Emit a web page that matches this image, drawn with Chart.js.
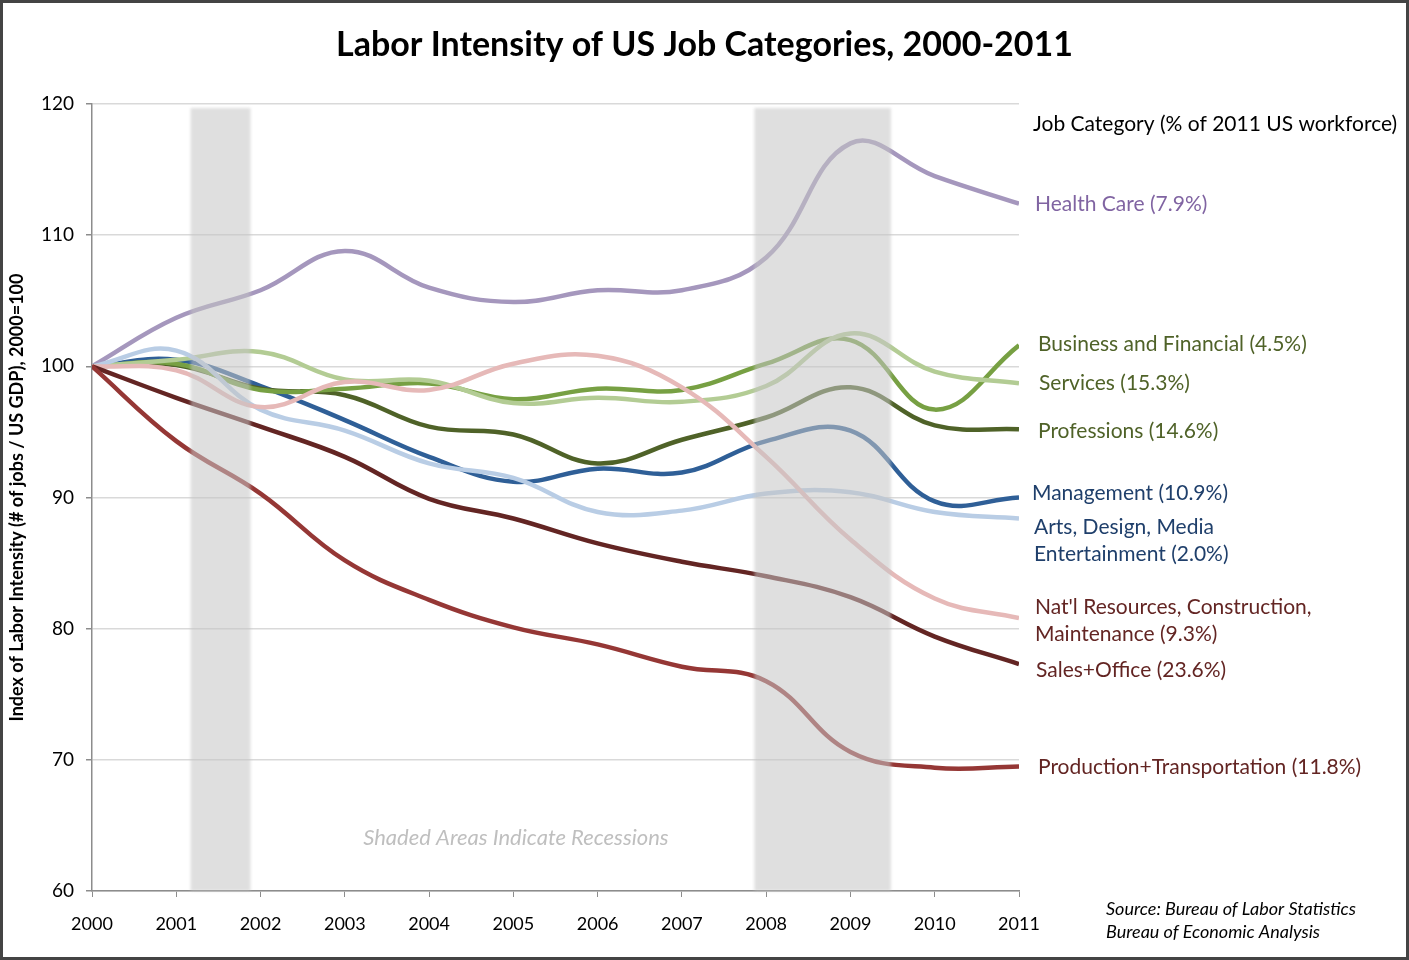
<!DOCTYPE html>
<html>
<head>
<meta charset="utf-8">
<script src="https://cdn.jsdelivr.net/npm/chart.js@4.4.0/dist/chart.umd.min.js"></script>
<style>
body { margin: 0; background: #fff; }
#wrap { width: 1409px; height: 960px; }
</style>
</head>
<body>
<div id="wrap"><canvas id="laborChart" width="1409" height="960"></canvas></div>
<script>
// yearly index values, 2000 = 100
const years = [2000, 2001, 2002, 2003, 2004, 2005, 2006, 2007, 2008, 2009, 2010, 2011];
const healthCare = [100, 103.7, 105.8, 108.8, 106.0, 104.9, 105.8, 105.8, 108.3, 117.0, 114.5, 112.4];
const businessFinancial = [100, 100.2, 98.2, 98.3, 98.7, 97.5, 98.3, 98.2, 100.2, 102.0, 96.7, 101.6];
const services = [100, 100.5, 101.1, 99.0, 98.9, 97.2, 97.6, 97.3, 98.5, 102.5, 99.6, 98.7];
const professions = [100, 100.1, 98.3, 97.8, 95.4, 94.8, 92.6, 94.4, 96.1, 98.4, 95.5, 95.2];
const management = [100, 100.5, 98.5, 95.9, 93.1, 91.2, 92.2, 91.9, 94.3, 95.1, 89.7, 90.0];
const artsMedia = [100, 101.2, 96.7, 95.1, 92.6, 91.5, 88.9, 89.0, 90.3, 90.4, 88.9, 88.4];
const natResources = [100, 99.7, 96.9, 98.8, 98.2, 100.2, 100.8, 98.4, 93.1, 86.8, 82.3, 80.8];
const salesOffice = [100, 97.6, 95.4, 93.1, 89.9, 88.4, 86.5, 85.1, 84.0, 82.4, 79.4, 77.3];
const production = [100, 94.3, 90.3, 85.2, 82.2, 80.1, 78.8, 77.1, 76.0, 70.6, 69.4, 69.5];

const seriesNames = [
  "Health Care (7.9%)", "Business and Financial (4.5%)", "Services (15.3%)",
  "Professions (14.6%)", "Management (10.9%)", "Arts, Design, Media Entertainment (2.0%)",
  "Nat'l Resources, Construction, Maintenance (9.3%)", "Sales+Office (23.6%)",
  "Production+Transportation (11.8%)"
];
const yTicks = [60, 70, 80, 90, 100, 110, 120];
// recessions (start, end) in fractional years
const recessionStart = [2001.17, 2007.86];
const recessionEnd = [2001.88, 2009.48];

const FONT = "Lato, 'Open Sans', sans-serif";

function series(label, data, color) {
  return {
    label: label,
    data: data.map((v, i) => ({ x: years[i], y: v })),
    borderColor: color,
    backgroundColor: color,
    borderWidth: 4.5,
    pointRadius: 0,
    tension: 0.4,
    fill: false
  };
}

// right-hand labels: text lines, colour, left x, centre y of first line
const sideLabels = [
  { lines: ["Job Category (% of 2011 US workforce)"], color: "#000000", x: 1033, y: 124 },
  { lines: [seriesNames[0]], color: "#8064a2", x: 1035, y: 204 },
  { lines: [seriesNames[1]], color: "#4f6228", x: 1038, y: 344 },
  { lines: [seriesNames[2]], color: "#4f6228", x: 1039, y: 383 },
  { lines: [seriesNames[3]], color: "#4f6228", x: 1038, y: 431 },
  { lines: [seriesNames[4]], color: "#1f3f6b", x: 1032, y: 493 },
  { lines: ["Arts, Design, Media", "Entertainment (2.0%)"], color: "#1f3f6b", x: 1034, y: 527 },
  { lines: ["Nat'l Resources, Construction,", "Maintenance (9.3%)"], color: "#632523", x: 1035, y: 607 },
  { lines: [seriesNames[7]], color: "#632523", x: 1036, y: 670 },
  { lines: [seriesNames[8]], color: "#632523", x: 1038, y: 767 }
];

const extras = {
  id: "extras",
  afterDatasetsDraw(chart) {
    const { ctx, chartArea, scales } = chart;
    ctx.save();
    ctx.fillStyle = "rgba(196,196,196,0.55)";
    ctx.filter = "blur(1.5px)";
    for (let i = 0; i < recessionStart.length; i++) {
      const x0 = scales.x.getPixelForValue(recessionStart[i]);
      const x1 = scales.x.getPixelForValue(recessionEnd[i]);
      ctx.fillRect(x0, chartArea.top + 4, x1 - x0, chartArea.bottom - chartArea.top - 4);
    }
    ctx.restore();

    ctx.save();
    ctx.font = "italic 22px " + FONT;
    ctx.fillStyle = "#bfbfbf";
    ctx.textAlign = "center";
    ctx.textBaseline = "middle";
    ctx.fillText("Shaded Areas Indicate Recessions", scales.x.getPixelForValue(2005.03), 838);
    ctx.restore();
  },
  afterDraw(chart) {
    const ctx = chart.ctx;
    ctx.save();
    ctx.textBaseline = "middle";
    ctx.textAlign = "center";
    ctx.fillStyle = "#000";
    ctx.font = "bold 34px " + FONT;
    ctx.fillText("Labor Intensity of US Job Categories, 2000-2011", chart.width / 2, 45);

    ctx.textAlign = "left";
    ctx.font = "21px " + FONT;
    sideLabels.forEach(l => {
      ctx.fillStyle = l.color;
      l.lines.forEach((t, k) => ctx.fillText(t, l.x, l.y + k * 27));
    });
    ctx.font = "italic 18px " + FONT;
    ctx.fillStyle = "#000";
    ctx.fillText("Source: Bureau of Labor Statistics", 1106, 909);
    ctx.fillText("Bureau of Economic Analysis", 1106, 932);
    ctx.strokeStyle = "#444";
    ctx.lineWidth = 3;
    ctx.strokeRect(1.5, 1.5, 1406, 957);
    ctx.restore();
  }
};

new Chart(document.getElementById("laborChart").getContext("2d"), {
  type: "line",
  data: {
    datasets: [
      series(seriesNames[8], production, "#953735"),
      series(seriesNames[7], salesOffice, "#632523"),
      series(seriesNames[6], natResources, "#e6b9b8"),
      series(seriesNames[5], artsMedia, "#b9cde5"),
      series(seriesNames[2], services, "#b3cc94"),
      series(seriesNames[1], businessFinancial, "#77a043"),
      series(seriesNames[3], professions, "#4f6228"),
      series(seriesNames[4], management, "#2f5f97"),
      series(seriesNames[0], healthCare, "#a597bd")
    ]
  },
  options: {
    responsive: false,
    devicePixelRatio: 1,
    animation: false,
    layout: { padding: { top: 104, right: 390, bottom: 0, left: 0 } },
    plugins: {
      legend: { display: false },
      tooltip: { enabled: false },
      title: { display: false }
    },
    scales: {
      x: {
        type: "linear",
        min: 2000,
        max: 2011,
        afterBuildTicks: s => { s.ticks = years.map(v => ({ value: v })); },
        afterFit: s => { s.height = 69; },
        ticks: {
          color: "#000",
          font: { family: FONT, size: 18 },
          padding: 16,
          maxRotation: 0,
          callback: v => String(v)
        },
        grid: { drawOnChartArea: false, drawTicks: true, tickLength: 6, tickColor: "#8c8c8c" },
        border: { color: "#8c8c8c", width: 1.5 }
      },
      y: {
        min: 60,
        max: 120,
        afterBuildTicks: s => { s.ticks = yTicks.map(v => ({ value: v })); },
        afterFit: s => { s.width = 92; },
        ticks: {
          color: "#000",
          font: { family: FONT, size: 19 },
          padding: 12
        },
        grid: { color: "#d9d9d9", lineWidth: 1.5, tickLength: 6, tickColor: "#8c8c8c" },
        border: { color: "#8c8c8c", width: 1.5 },
        title: {
          display: true,
          text: "Index of Labor Intensity (# of jobs / US GDP), 2000=100",
          color: "#000",
          font: { family: FONT, size: 18, weight: "bold" },
          padding: { top: 6, bottom: 0 }
        }
      }
    }
  },
  plugins: [extras]
});
</script>
</body>
</html>
